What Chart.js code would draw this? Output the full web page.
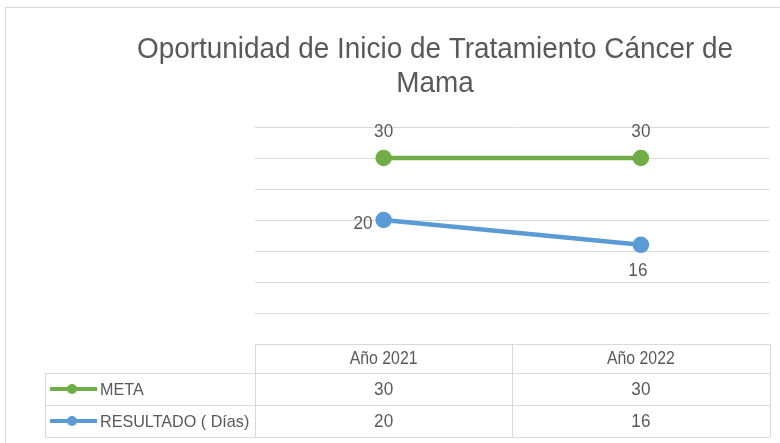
<!DOCTYPE html>
<html>
<head>
<meta charset="utf-8">
<script src="https://cdn.jsdelivr.net/npm/chart.js@4.4.1/dist/chart.umd.min.js"></script>
<style>
    html, body { margin: 0; padding: 0; background: #fff; }
    #wrap { position: relative; width: 780px; height: 443px; overflow: hidden; }
    #frame { position: absolute; left: 5px; top: 7px; width: 800px; height: 460px; border: 1px solid #d9d9d9; box-sizing: border-box; }
    canvas { position: absolute; left: 0; top: 0; }
</style>
</head>
<body>
<div id="wrap">
    <div id="frame"></div>
    <canvas id="chart" width="780" height="443"></canvas>
</div>
<script>
// --- Data ---
const titleLines = ['Oportunidad de Inicio de Tratamiento Cáncer de', 'Mama'];
const categories = ['Año 2021', 'Año 2022'];
const seriesNames = ['META', 'RESULTADO ( Días)'];
const metaValues = [30, 30];
const resultadoValues = [20, 16];
const yTicks = [0, 5, 10, 15, 20, 25, 30, 35];

// where each value label sits relative to its point
const labelPlacement = [['above', 'above'], ['left', 'below']];

const textColor = '#595959';
const gridColor = '#d9d9d9';
const fontFamily = '"Liberation Sans", "DejaVu Sans", sans-serif';

// Calibri-ish look: draw text a little condensed
function drawText(ctx, text, x, y, size, align, sx = 0.9) {
    ctx.save();
    ctx.font = `${size}px ${fontFamily}`;
    ctx.textAlign = align;
    ctx.translate(x, y);
    ctx.scale(sx, 1);
    ctx.fillText(text, 0, 0);
    ctx.restore();
}

// --- Title ---
const titlePlugin = {
    id: 'excelTitle',
    afterDraw(chart) {
        const ctx = chart.ctx;
        ctx.save();
        ctx.fillStyle = textColor;
        ctx.textBaseline = 'alphabetic';
        ctx.font = `30px ${fontFamily}`;
        const sx = 596 / ctx.measureText(titleLines[0]).width;
        titleLines.forEach((line, i) => drawText(ctx, line, 435, 58 + i * 34, 30, 'center', sx));
        ctx.restore();
    }
};

// --- Value labels next to the points ---
const valueLabels = {
    id: 'valueLabels',
    afterDatasetsDraw(chart) {
        const ctx = chart.ctx;
        ctx.save();
        ctx.fillStyle = textColor;
        ctx.textBaseline = 'middle';
        chart.data.datasets.forEach((ds, di) => {
            chart.getDatasetMeta(di).data.forEach((pt, i) => {
                const pos = labelPlacement[di][i];
                let x = pt.x, y = pt.y, align = 'center';
                if (pos === 'above') y -= 26;
                if (pos === 'below') { y += 26; x -= 3; }
                if (pos === 'left') { align = 'right'; x -= 11; y += 4; }
                drawText(ctx, String(ds.data[i]), x, y, 18, align, 0.95);
            });
        });
        ctx.restore();
    }
};

// --- Data table under the plot ---
const dataTable = {
    id: 'dataTable',
    afterDraw(chart) {
        const { ctx, chartArea } = chart;
        const x = chart.scales.x;
        const top = chartArea.bottom;
        const rowH = [29, 32, 32];
        const tableLeft = 45;

        const edges = [chartArea.left];
        for (let i = 0; i < categories.length; i++) {
            edges.push(i < categories.length - 1
                ? (x.getPixelForTick(i) + x.getPixelForTick(i + 1)) / 2
                : chartArea.right);
        }
        const rowTops = [top];
        rowH.forEach(h => rowTops.push(rowTops[rowTops.length - 1] + h));
        const bottom = rowTops[rowTops.length - 1];

        ctx.save();
        ctx.strokeStyle = gridColor;
        ctx.lineWidth = 1;
        ctx.beginPath();
        ctx.moveTo(edges[0], rowTops[0] + 0.5);
        ctx.lineTo(edges[edges.length - 1], rowTops[0] + 0.5);
        for (let r = 1; r < rowTops.length; r++) {
            ctx.moveTo(tableLeft, rowTops[r] + 0.5);
            ctx.lineTo(edges[edges.length - 1], rowTops[r] + 0.5);
        }
        edges.forEach(e => {
            ctx.moveTo(Math.round(e) + 0.5, top);
            ctx.lineTo(Math.round(e) + 0.5, bottom);
        });
        ctx.moveTo(tableLeft + 0.5, rowTops[1]);
        ctx.lineTo(tableLeft + 0.5, bottom);
        ctx.stroke();

        ctx.fillStyle = textColor;
        ctx.textBaseline = 'middle';
        categories.forEach((c, i) => {
            drawText(ctx, c, x.getPixelForTick(i), (rowTops[0] + rowTops[1]) / 2 + 1, 18, 'center', 0.88);
        });

        chart.data.datasets.forEach((ds, di) => {
            const cy = (rowTops[di + 1] + rowTops[di + 2]) / 2 + 1;
            ds.data.forEach((v, i) => {
                ctx.fillStyle = textColor;
                drawText(ctx, String(v), x.getPixelForTick(i), cy, 18, 'center', 0.95);
            });
            // legend key
            ctx.strokeStyle = ds.borderColor;
            ctx.lineWidth = 4;
            ctx.beginPath();
            ctx.moveTo(tableLeft + 5, cy - 1);
            ctx.lineTo(tableLeft + 52, cy - 1);
            ctx.stroke();
            ctx.fillStyle = ds.borderColor;
            ctx.beginPath();
            ctx.arc(tableLeft + 27, cy - 1, 5, 0, Math.PI * 2);
            ctx.fill();
            ctx.fillStyle = textColor;
            drawText(ctx, ds.label, tableLeft + 55, cy, 17, 'left', 0.95);
        });
        ctx.restore();
    }
};

new Chart(document.getElementById('chart'), {
    type: 'line',
    data: {
        labels: categories,
        datasets: [
            {
                label: seriesNames[0],
                data: metaValues,
                borderColor: '#70ad47',
                backgroundColor: '#70ad47',
                borderWidth: 4.5,
                pointRadius: 6,
                pointHoverRadius: 6
            },
            {
                label: seriesNames[1],
                data: resultadoValues,
                borderColor: '#5b9bd5',
                backgroundColor: '#5b9bd5',
                borderWidth: 4.5,
                pointRadius: 6,
                pointHoverRadius: 6
            }
        ]
    },
    options: {
        responsive: false,
        animation: false,
        layout: { padding: { left: 255, right: 10, top: 127, bottom: 99 } },
        plugins: {
            legend: { display: false },
            title: { display: false },
            tooltip: { enabled: false }
        },
        scales: {
            x: { display: false, offset: true },
            y: {
                min: yTicks[0],
                max: yTicks[yTicks.length - 1],
                ticks: { display: false, stepSize: yTicks[1] - yTicks[0] },
                border: { display: false },
                grid: { color: gridColor, lineWidth: 1, drawTicks: false }
            }
        }
    },
    plugins: [titlePlugin, valueLabels, dataTable]
});
</script>
</body>
</html>
